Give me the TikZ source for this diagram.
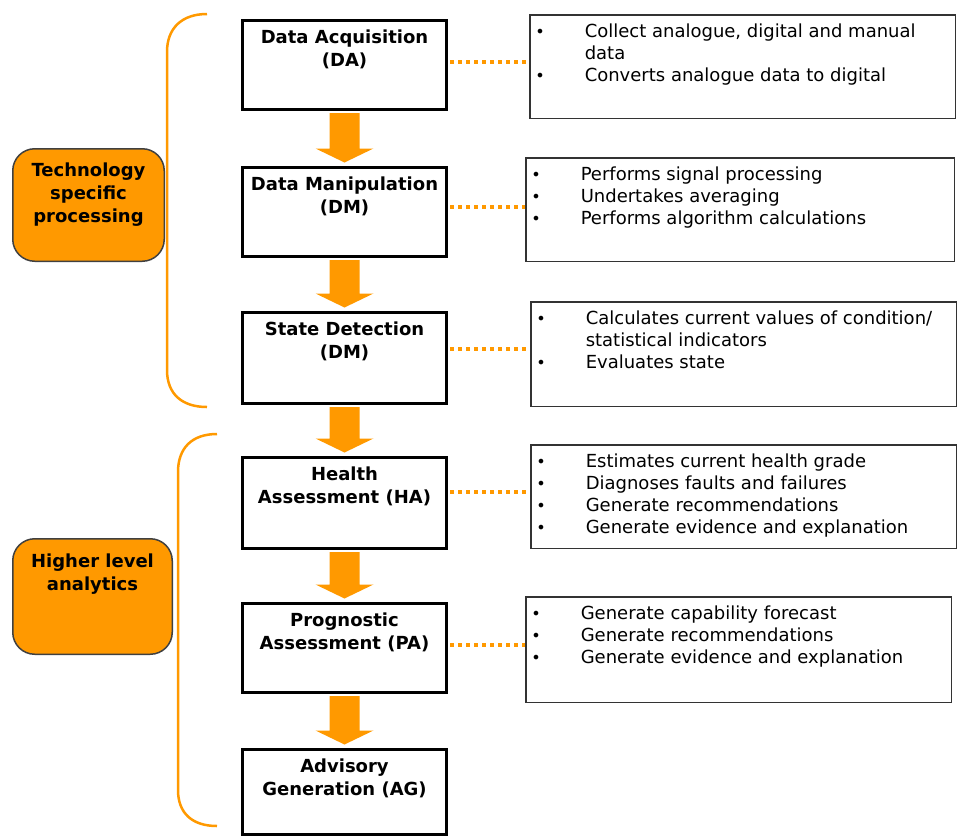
\documentclass[tikz,border=0pt]{standalone}
\usepackage{fontspec}
\setmainfont{DejaVu Sans}
\definecolor{org}{HTML}{FF9900}
\newcommand{\itm}[1]{\par\noindent\hangindent=49pt\hangafter=1\makebox[49pt][l]{\hspace*{-0.5pt}\raisebox{0.5pt}{\fontsize{16}{16}\selectfont •}}#1\par}
\newcommand{\mbtext}[2]{\parbox[c][#1][t]{200pt}{\centering\rule{0pt}{23pt}#2}}
\newcommand{\lbtext}[4]{\parbox[c][#1][t]{#2}{\centering\rule{0pt}{#3}#4}}
\newcommand{\rtext}[3]{\parbox[c][#1][t]{#2}{\rightskip=0pt plus 1fil\relax #3}}
\newcommand{\flowarrow}[2]{\fill[org] ([xshift=-15pt,yshift=-2pt]#1.south) -- ([xshift=15pt,yshift=-2pt]#1.south) -- ([xshift=15pt,yshift=17.5pt]#2.north) -- ([xshift=29pt,yshift=17.5pt]#2.north) -- ([yshift=3.5pt]#2.north) -- ([xshift=-29pt,yshift=17.5pt]#2.north) -- ([xshift=-15pt,yshift=17.5pt]#2.north) -- cycle;}
\begin{document}
\begin{tikzpicture}[x=1pt,y=-1pt,
  mainbox/.style={draw=black, line width=3pt, fill=white, minimum width=204pt, inner sep=0pt, font=\bfseries\fontsize{18}{22.5}\selectfont},
  rbox/.style={draw=black!80, line width=1.5pt, fill=white, inner xsep=6pt, inner ysep=0pt, font=\fontsize{18}{22}\selectfont},
  lbox/.style={draw=black!75, line width=1.5pt, fill=org, rounded corners=22pt, inner sep=0pt, font=\bfseries\fontsize{18}{23}\selectfont},
  dotline/.style={draw=org, line width=3.5pt, dash pattern=on 3.5pt off 4.5pt},
  brace/.style={draw=org, line width=2.5pt}
]
\useasboundingbox (0,0) rectangle (958,839);

% main flow boxes
\node[mainbox, minimum height=89pt] (da) at (344.5,65) {\mbtext{89pt}{Data Acquisition\\(DA)}};
\node[mainbox, minimum height=89pt] (dm) at (344.5,212) {\mbtext{89pt}{Data Manipulation\\(DM)}};
\node[mainbox, minimum height=91pt] (sd) at (344.5,358) {\mbtext{91pt}{State Detection\\(DM)}};
\node[mainbox, minimum height=91pt] (ha) at (344.5,503) {\mbtext{91pt}{Health\\Assessment (HA)}};
\node[mainbox, minimum height=89pt] (pa) at (344.5,648) {\mbtext{89pt}{Prognostic\\Assessment (PA)}};
\node[mainbox, minimum height=85pt] (ag) at (344.5,792) {\mbtext{85pt}{Advisory\\Generation (AG)}};

% flow arrows
\flowarrow{da}{dm}
\flowarrow{dm}{sd}
\flowarrow{sd}{ha}
\flowarrow{ha}{pa}
\flowarrow{pa}{ag}

% right description boxes
\node[rbox, minimum width=425.5pt, minimum height=103.5pt] (r1) at (742.5,66.5) {\rtext{103.5pt}{413.5pt}{%
\itm{\rule{0pt}{23pt}Collect analogue, digital and manual\hfil\break data}
\itm{Converts analogue data to digital}}};
\node[rbox, minimum width=428.5pt, minimum height=103.5pt] (r2) at (740,209.5) {\rtext{103.5pt}{416.5pt}{%
\itm{\rule{0pt}{23pt}Performs signal processing}
\itm{Undertakes averaging}
\itm{Performs algorithm calculations}}};
\node[rbox, minimum width=425.5pt, minimum height=104.5pt] (r3) at (743.5,354) {\rtext{104.5pt}{413.5pt}{%
\itm{\rule{0pt}{23pt}Calculates current values of condition/\hfil\break statistical indicators}
\itm{Evaluates state}}};
\node[rbox, minimum width=425.5pt, minimum height=103.5pt] (r4) at (743.5,496.5) {\rtext{103.5pt}{413.5pt}{%
\itm{\rule{0pt}{23pt}Estimates current health grade}
\itm{Diagnoses faults and failures}
\itm{Generate recommendations}
\itm{Generate evidence and explanation}}};
\node[rbox, minimum width=425.5pt, minimum height=105.5pt] (r5) at (738.5,649.5) {\rtext{105.5pt}{413.5pt}{%
\itm{\rule{0pt}{23pt}Generate capability forecast}
\itm{Generate recommendations}
\itm{Generate evidence and explanation}}};

% dotted connectors
\draw[dotline] ([xshift=2pt,yshift=3pt]da.east) -- ([yshift=3pt]da.east -| r1.west);
\draw[dotline] ([xshift=2pt,yshift=5pt]dm.east) -- ([yshift=5pt]dm.east -| r2.west);
\draw[dotline] ([xshift=2pt,yshift=9pt]sd.east) -- ([yshift=9pt]sd.east -| r3.west);
\draw[dotline] ([xshift=2pt,yshift=11pt]ha.east) -- ([yshift=11pt]ha.east -| r4.west);
\draw[dotline] ([xshift=2pt,yshift=3pt]pa.east) -- ([yshift=3pt]pa.east -| r5.west);

% left category boxes
\node[lbox, minimum width=151.5pt, minimum height=112.5pt] (tsp) at (88.5,205) {\lbtext{112.5pt}{150pt}{27.5pt}{Technology\\specific\\processing}};
\node[lbox, minimum width=159.5pt, minimum height=115.5pt] (hla) at (92.5,596.5) {\lbtext{115.5pt}{158pt}{29pt}{Higher level\\analytics}};

% braces
\draw[brace] (207,14) .. controls (182,14) and (167,28) .. (167,52) -- (167,370) .. controls (167,394) and (182,407) .. (207,407);
\draw[brace] (217,434) .. controls (192,434) and (178,448) .. (178,472) -- (178,790) .. controls (178,813) and (192,826) .. (217,826);
\end{tikzpicture}
\end{document}
